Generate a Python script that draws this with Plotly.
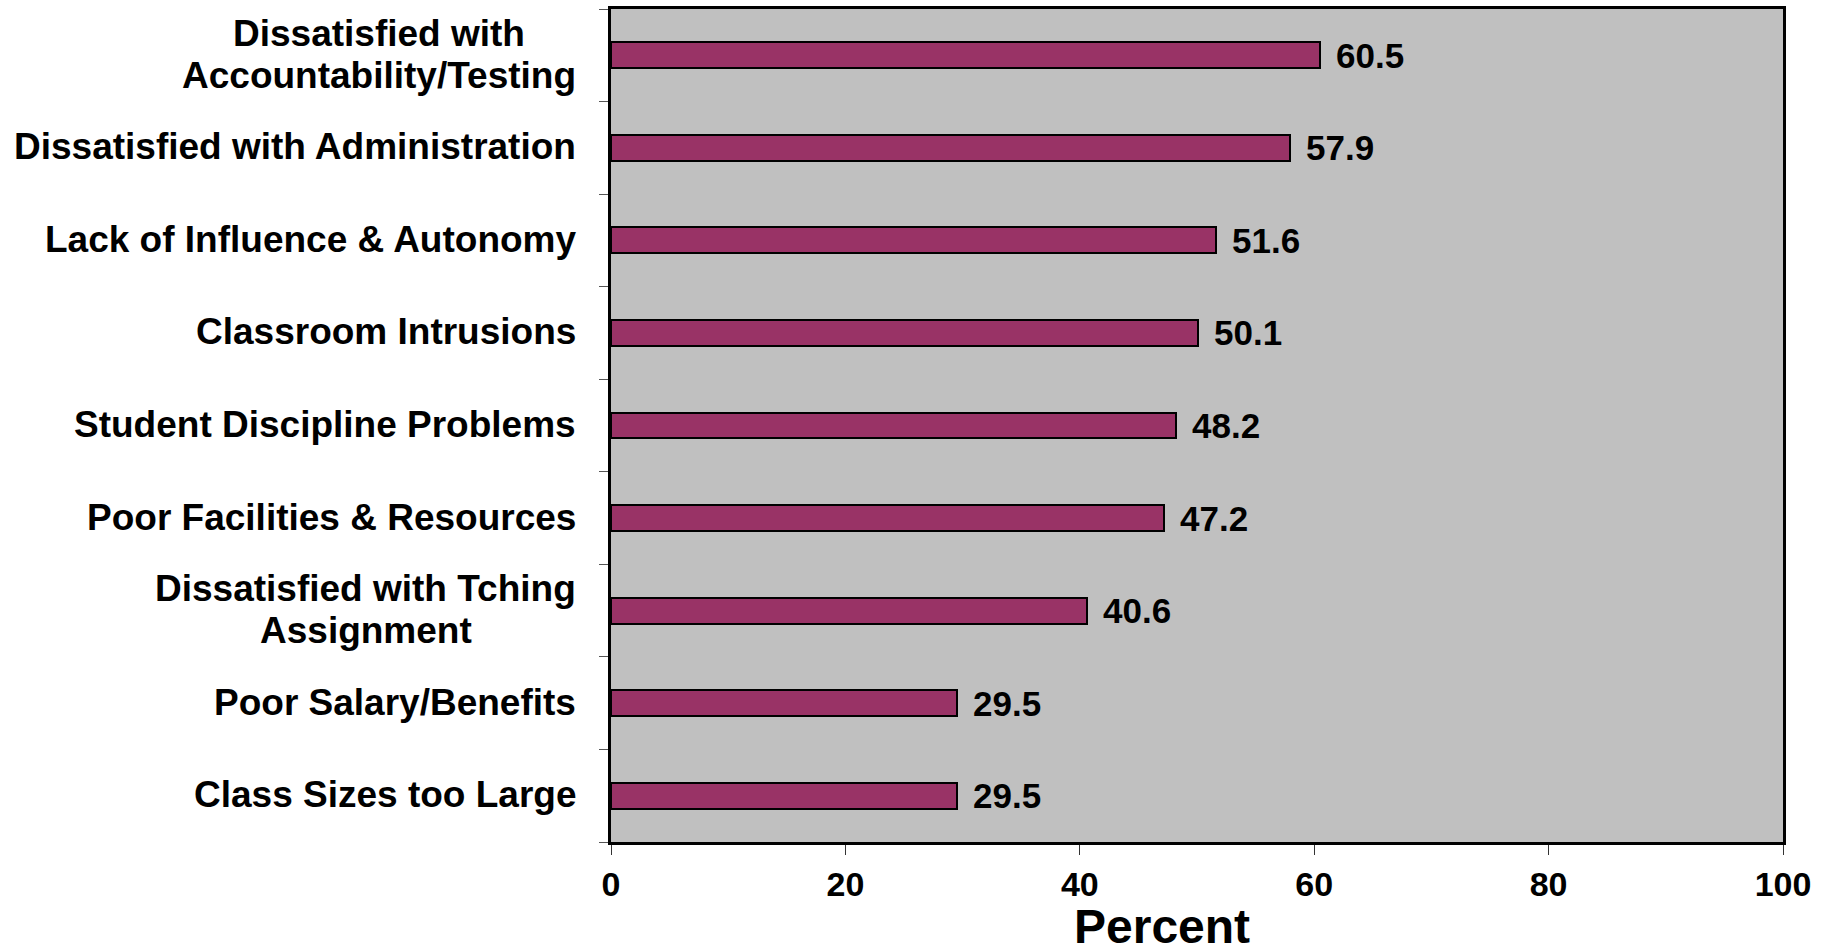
import plotly.graph_objects as go

categories = [
    "Dissatisfied with<br>Accountability/Testing",
    "Dissatisfied with Administration",
    "Lack of Influence & Autonomy",
    "Classroom Intrusions",
    "Student Discipline Problems",
    "Poor Facilities & Resources",
    "Dissatisfied with Tching<br>Assignment",
    "Poor Salary/Benefits",
    "Class Sizes too Large",
]
values = [60.5, 57.9, 51.6, 50.1, 48.2, 47.2, 40.6, 29.5, 29.5]
x_ticks = [0, 20, 40, 60, 80, 100]
x_title = "Percent"

FONT = "Liberation Sans, Arial, sans-serif"
ids = list(range(len(categories)))

# extra left shift (px) of the shorter line of the two-line labels so that
# it appears centred over the longer line
center_offsets = {(0, 0): 51, (6, 1): 104}

fig = go.Figure()
fig.add_trace(go.Bar(
    y=ids, x=values, orientation="h", width=0.28,
    marker=dict(color="#993366", line=dict(color="black", width=2)),
    hoverinfo="skip",
))

label_font = dict(family=FONT, size=37, color="black", weight="bold")
annotations = []
for i, (c, v) in enumerate(zip(categories, values)):
    lines = c.split("<br>")
    n = len(lines)
    for k, ln in enumerate(lines):
        yshift = (n - 1) * 21 - k * 42
        annotations.append(dict(
            x=0, xref="paper", y=i, yref="y", text=ln, showarrow=False,
            xanchor="right", yanchor="middle", align="center",
            xshift=-33 - center_offsets.get((i, k), 0), yshift=yshift + 1,
            font=label_font,
        ))
    annotations.append(dict(
        x=v, xref="x", y=i, yref="y", text=f"{v:.1f}", showarrow=False,
        xanchor="left", yanchor="middle", xshift=14, yshift=0,
        font=dict(family=FONT, size=35, color="black", weight="bold"),
    ))

annotations.append(dict(
    x=0.470, xref="paper", y=0, yref="paper", text=x_title, showarrow=False,
    xanchor="center", yanchor="middle", yshift=-84, borderpad=0,
    font=dict(family=FONT, size=48, color="black", weight="bold"),
))

fig.update_layout(
    width=1825, height=950,
    margin=dict(l=611, r=42, t=6, b=108),
    paper_bgcolor="white", plot_bgcolor="#C0C0C0",
    showlegend=False, bargap=0,
    annotations=annotations,
    xaxis=dict(
        range=[0, 100], tickvals=x_ticks, ticktext=[str(t) for t in x_ticks],
        showgrid=False, zeroline=False,
        showline=True, linecolor="black", linewidth=3, mirror=True,
        ticks="outside", ticklen=10, tickwidth=1, tickcolor="#333333",
        tickfont=dict(family=FONT, size=34, color="black", weight="bold"),
        fixedrange=True,
    ),
    yaxis=dict(
        type="category", range=[len(categories) - 0.5, -0.5],
        tickvals=ids, showticklabels=False, tickson="boundaries",
        showgrid=False, zeroline=False,
        showline=True, linecolor="black", linewidth=3, mirror=True,
        ticks="outside", ticklen=9, tickwidth=1, tickcolor="#555555",
        fixedrange=True,
    ),
)

fig.write_html("out.html", config={"displayModeBar": False},
               post_script="document.body.style.margin='0';document.body.style.overflow='hidden';")
